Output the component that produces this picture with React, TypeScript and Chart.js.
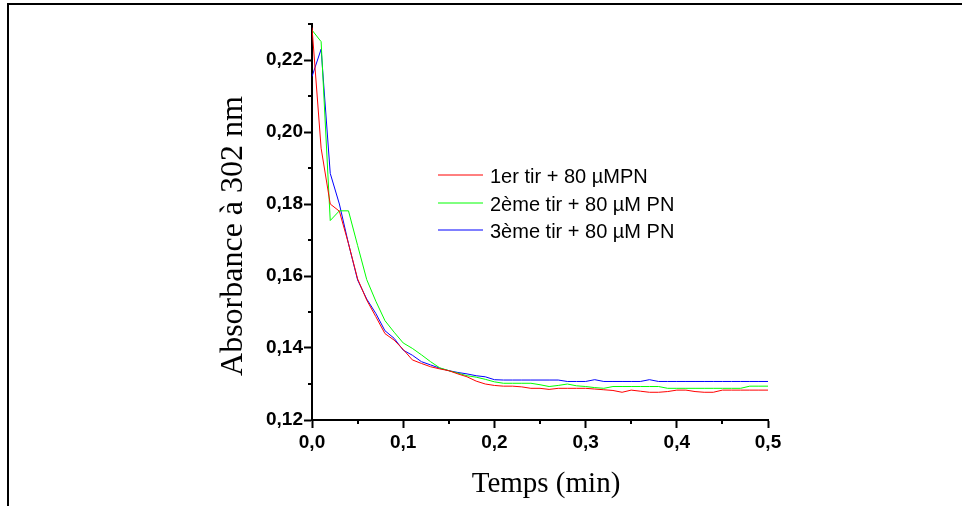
import React, { useEffect, useRef } from "react";
import { Chart, registerables } from "chart.js";

Chart.register(...registerables);

const TIMES = [
  0, 0.01, 0.02, 0.03, 0.04, 0.05, 0.06, 0.07, 0.08, 0.09,
  0.1, 0.11, 0.12, 0.13, 0.14, 0.15, 0.16, 0.17, 0.18, 0.19,
  0.2, 0.21, 0.22, 0.23, 0.24, 0.25, 0.26, 0.27, 0.28, 0.29,
  0.3, 0.31, 0.32, 0.33, 0.34, 0.35, 0.36, 0.37, 0.38, 0.39,
  0.4, 0.41, 0.42, 0.43, 0.44, 0.45, 0.46, 0.47, 0.48, 0.49, 0.5,
];

const TIR1 = [
  0.229, 0.1955, 0.18, 0.178, 0.169, 0.1592, 0.1533, 0.1487, 0.144, 0.1422,
  0.1396, 0.1367, 0.1357, 0.1348, 0.1342, 0.1337, 0.1328, 0.132, 0.1308, 0.13,
  0.1296, 0.1294, 0.1294, 0.1292, 0.1288, 0.1288, 0.1285, 0.1288, 0.1288, 0.1288,
  0.1288, 0.1286, 0.1284, 0.1282, 0.1277, 0.1283, 0.128, 0.1277, 0.1277, 0.1279,
  0.1283, 0.1283, 0.1279, 0.1277, 0.1277, 0.1283, 0.1283, 0.1283, 0.1283, 0.1283, 0.1283,
];

const TIR2 = [
  0.2283, 0.2251, 0.1754, 0.1781, 0.1781, 0.1685, 0.159, 0.153, 0.1476, 0.1444,
  0.1414, 0.1399, 0.1381, 0.1362, 0.1345, 0.1337, 0.133, 0.1323, 0.1319, 0.1313,
  0.1306, 0.1302, 0.1302, 0.1302, 0.1302, 0.1298, 0.1293, 0.1296, 0.13, 0.1295,
  0.1293, 0.129, 0.1288, 0.1293, 0.1293, 0.1293, 0.1293, 0.1293, 0.1293, 0.1288,
  0.1288, 0.1288, 0.1288, 0.1288, 0.1288, 0.1288, 0.1288, 0.1288, 0.1294, 0.1294, 0.1294,
];

const TIR3 = [
  0.2154, 0.223, 0.1885, 0.18, 0.169, 0.1589, 0.1536, 0.1496, 0.1448, 0.1427,
  0.1394, 0.138, 0.1362, 0.1353, 0.1344, 0.1337, 0.1332, 0.1328, 0.1323, 0.132,
  0.1312, 0.1311, 0.1311, 0.1311, 0.1311, 0.1311, 0.1311, 0.1311, 0.1307, 0.1307,
  0.1307, 0.1312, 0.1307, 0.1307, 0.1307, 0.1307, 0.1307, 0.1312, 0.1307, 0.1307,
  0.1307, 0.1307, 0.1307, 0.1307, 0.1307, 0.1307, 0.1307, 0.1307, 0.1307, 0.1307, 0.1307,
];

const SERIES_LABELS = ["1er tir + 80 µMPN", "2ème tir + 80 µM PN", "3ème tir + 80 µM PN"];
const SERIES_COLORS = ["#ff0000", "#00ff00", "#0000ff"];

const X_MAJOR = [0, 0.1, 0.2, 0.3, 0.4, 0.5];
const X_MINOR = [0.05, 0.15, 0.25, 0.35, 0.45];
const Y_MAJOR = [0.12, 0.14, 0.16, 0.18, 0.2, 0.22];
const Y_MINOR = [0.13, 0.15, 0.17, 0.19, 0.21, 0.23];

const X_TITLE = "Temps (min)";
const Y_TITLE = "Absorbance à 302 nm";

const SANS = '"Liberation Sans", Arial, sans-serif';
const SERIF = '"Liberation Serif", "Times New Roman", serif';

const decorPlugin = {
  id: "decor",
  afterDraw(chart: any) {
    const ctx = chart.ctx;
    const xs = chart.scales.x;
    const ys = chart.scales.y;
    const area = chart.chartArea;
    ctx.save();
    // frame
    ctx.strokeStyle = "#000";
    ctx.lineWidth = 2;
    ctx.beginPath();
    ctx.moveTo(8, 506);
    ctx.lineTo(8, 4);
    ctx.lineTo(962, 4);
    ctx.stroke();
    // minor ticks
    ctx.lineWidth = 2;
    ctx.beginPath();
    X_MINOR.forEach((v) => {
      const px = Math.round(xs.getPixelForValue(v));
      ctx.moveTo(px, area.bottom);
      ctx.lineTo(px, area.bottom + 4);
    });
    Y_MINOR.forEach((v) => {
      const py = Math.round(ys.getPixelForValue(v));
      ctx.moveTo(area.left, py);
      ctx.lineTo(area.left - 4, py);
    });
    ctx.stroke();
    // axis titles
    ctx.fillStyle = "#000";
    ctx.textAlign = "center";
    ctx.textBaseline = "alphabetic";
    ctx.font = "29px " + SERIF;
    ctx.fillText(X_TITLE, 546, 492);
    ctx.save();
    ctx.translate(242, 236);
    ctx.rotate(-Math.PI / 2);
    ctx.font = "32px " + SERIF;
    ctx.fillText(Y_TITLE, 0, 0);
    ctx.restore();
    // legend
    ctx.font = "20px " + SANS;
    ctx.textBaseline = "alphabetic";
    ctx.textAlign = "left";
    chart.data.datasets.forEach((ds: any, i: number) => {
      const y = Math.round(175 + i * 27.5);
      ctx.strokeStyle = SERIES_COLORS[i];
      ctx.lineWidth = 1;
      ctx.beginPath();
      ctx.moveTo(438, y);
      ctx.lineTo(483, y);
      ctx.stroke();
      ctx.fillStyle = "#000";
      ctx.fillText(ds.label, 490, y + 8);
    });
    ctx.restore();
  },
};

function fmt(v: number, d: number) {
  return v.toFixed(d).replace(".", ",");
}

export default function App() {
  const ref = useRef<HTMLCanvasElement | null>(null);

  useEffect(() => {
    if (!ref.current) return;
    const seriesValues = [TIR1, TIR2, TIR3];
    const chart = new Chart(ref.current, {
      type: "line",
      data: {
        datasets: seriesValues.map((vals, i) => ({
          label: SERIES_LABELS[i],
          data: TIMES.map((t, j) => ({ x: t, y: vals[j] })),
          borderColor: SERIES_COLORS[i],
          backgroundColor: SERIES_COLORS[i],
          borderWidth: 1,
          pointRadius: 0,
          tension: 0,
          fill: false,
        })),
      },
      options: {
        animation: false,
        responsive: false,
        devicePixelRatio: 1,
        layout: { padding: { left: 200, right: 194, top: 24, bottom: 5 } },
        plugins: {
          legend: { display: false },
          tooltip: { enabled: false },
        },
        scales: {
          x: {
            type: "linear",
            min: 0,
            max: 0.5,
            afterBuildTicks: (scale: any) => {
              scale.ticks = X_MAJOR.map((v) => ({ value: v }));
            },
            afterFit: (scale: any) => {
              scale.height = 81;
            },
            ticks: {
              callback: (v: any) => fmt(Number(v), 1),
              color: "#000",
              padding: 3,
              maxRotation: 0,
              autoSkip: false,
              font: { family: SANS, size: 19, weight: "bold" },
            },
            grid: {
              drawOnChartArea: false,
              drawTicks: true,
              tickLength: 8,
              tickWidth: 2,
              tickColor: "#000",
            },
            border: { display: true, color: "#000", width: 2 },
          },
          y: {
            type: "linear",
            min: 0.12,
            max: 0.23,
            afterBuildTicks: (scale: any) => {
              scale.ticks = Y_MAJOR.map((v) => ({ value: v }));
            },
            afterFit: (scale: any) => {
              scale.width = 112;
            },
            ticks: {
              callback: (v: any) => fmt(Number(v), 2),
              color: "#000",
              padding: 1,
              autoSkip: false,
              font: { family: SANS, size: 19, weight: "bold" },
            },
            grid: {
              drawOnChartArea: false,
              drawTicks: true,
              tickLength: 8,
              tickWidth: 2,
              tickColor: "#000",
            },
            border: { display: true, color: "#000", width: 2 },
          },
        },
      },
      plugins: [decorPlugin],
    });
    return () => chart.destroy();
  }, []);

  return (
    <div style={{ position: "absolute", left: 0, top: 0, width: 962, height: 506, background: "#fff" }}>
      <canvas ref={ref} width={962} height={506} style={{ display: "block", width: 962, height: 506 }} />
    </div>
  );
}
